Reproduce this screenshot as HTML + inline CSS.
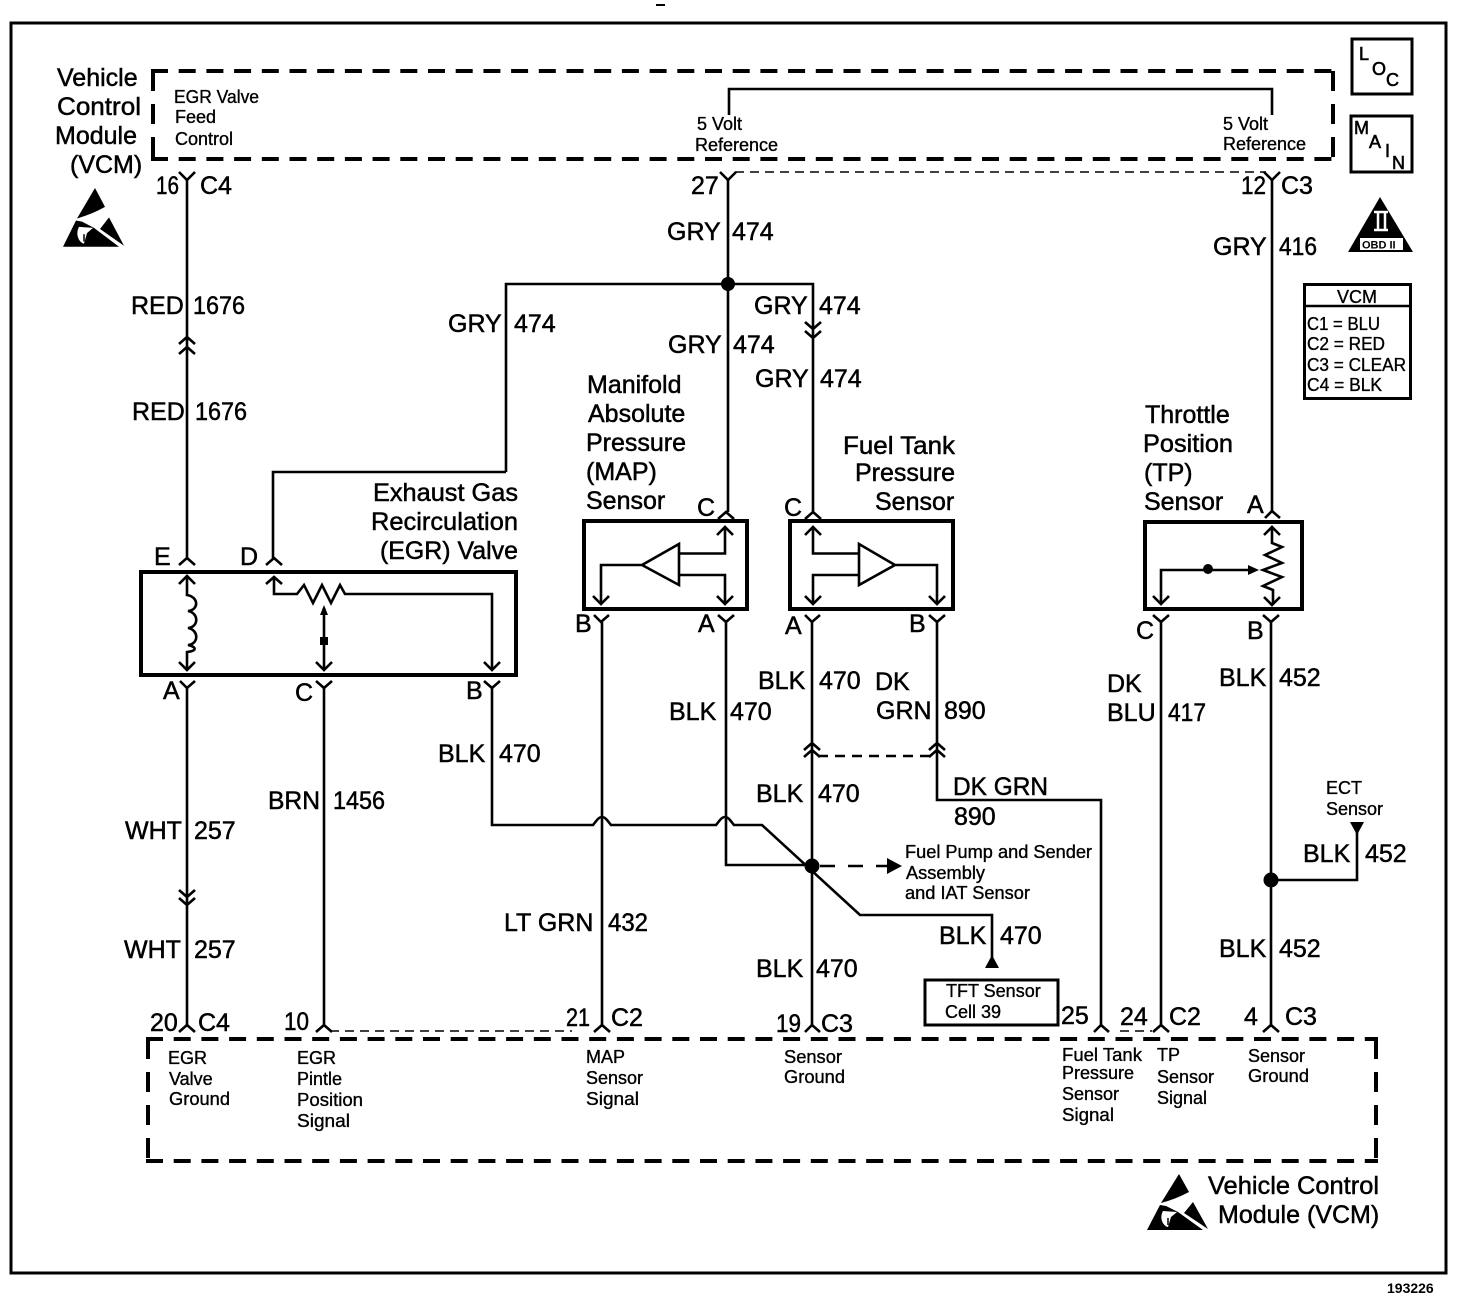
<!DOCTYPE html>
<html>
<head>
<meta charset="utf-8">
<style>
html,body{margin:0;padding:0;background:#fff;}
svg{display:block;}
text{font-family:"Liberation Sans",sans-serif;fill:#000;stroke:#000;}
.b text{font-size:25px;stroke-width:.5;}
.s text{font-size:18px;stroke-width:.35;}
.w{fill:none;stroke:#000;stroke-width:2.6;}
.h{fill:none;stroke:#000;stroke-width:4;}
.d{fill:none;stroke:#000;stroke-width:4;stroke-dasharray:17 10.7;}
.v{fill:none;stroke:#000;stroke-width:4;stroke-dasharray:20 13;}
.t{fill:none;stroke:#000;stroke-width:1.6;stroke-dasharray:9 6;}
</style>
</head>
<body>
<svg width="1472" height="1300" viewBox="0 0 1472 1300" xmlns="http://www.w3.org/2000/svg">
<rect width="1472" height="1300" fill="#fff"/>
<rect x="11" y="23" width="1435" height="1250" fill="none" stroke="#000" stroke-width="3"/>
<path d="M656 5h9" stroke="#000" stroke-width="2"/>

<path class="d" d="M151 71H1335M151 159H1335M146 1039H1378M146 1161H1378"/>
<path class="v" d="M153 71V159M1333 71V159M148 1039V1161M1376 1039V1161"/>

<rect x="1352" y="39" width="60" height="55" fill="none" stroke="#000" stroke-width="3"/>
<rect x="1351" y="116" width="61" height="56" fill="none" stroke="#000" stroke-width="3"/>
<path d="M1380 197L1348 252H1413Z"/>
<path d="M1374 212h14M1374 230h14M1378 212v18M1385 212v18" stroke="#fff" stroke-width="2.500" fill="none"/>
<rect x="1360" y="238" width="43" height="12" fill="#fff"/>
<rect x="1304.500" y="284.500" width="106" height="114" fill="none" stroke="#000" stroke-width="3"/>
<path d="M1305 306H1410" stroke="#000" stroke-width="2.500"/>

<!-- ESD icons -->
<g>
<path d="M1179 1174L1189 1192Q1176 1199 1161 1203Z"/>
<path d="M1160 1205L1147 1230H1203L1178 1212L1166 1206Z"/>
<path d="M1193 1202L1208 1229L1184 1213Z"/>
<path d="M1163 1211C1159 1218 1163 1226 1168 1227L1171 1217L1177 1212Z" fill="#fff"/>
<path d="M1168 1218V1225" stroke="#000" stroke-width="1.500"/>
</g>
<g transform="translate(-1084,-1044.700) scale(1,1.050)">
<path d="M1179 1174L1189 1192Q1176 1199 1161 1203Z"/>
<path d="M1160 1205L1147 1230H1203L1178 1212L1166 1206Z"/>
<path d="M1193 1202L1208 1229L1184 1213Z"/>
<path d="M1163 1211C1159 1218 1163 1226 1168 1227L1171 1217L1177 1212Z" fill="#fff"/>
<path d="M1168 1218V1225" stroke="#000" stroke-width="1.500"/>
</g>

<!-- Wires -->
<path class="w" d="M729 115V89H1272V115"/>
<path class="w" d="M187 180V558"/>
<path class="w" d="M179 344L187 337L195 344M179 354L187 347L195 354"/>
<path class="w" d="M187 687V1025M179 890L187 897L195 890M179 898L187 905L195 898"/>
<path class="w" d="M728 180V512M506 472V284H813V338M506 472H273V558"/>
<path class="w" d="M805 322L813 329L821 322M805 331L813 338L821 331M813 338V512"/>
<path class="w" d="M1272 180V511"/>
<path class="w" d="M324 687V1025"/>
<path class="w" d="M492 687V825H593L597 820Q602 814 607 820L611 825H716L720 820Q725 814 730 820L734 825H762L860 915H992V960"/>
<path class="w" d="M602 622V1025"/>
<path class="w" d="M726 622V865H812"/>
<path class="w" d="M812 622V1025M804 750L812 743L820 750M804 757L812 750L820 757"/>
<path class="w" d="M937 622V800H1101V1025M929 750L937 743L945 750M929 757L937 750L945 757"/>
<path class="w" d="M1161 622V1025"/>
<path class="w" d="M1271 622V1025M1271 880H1357V830"/>
<path d="M1350 822H1364L1357 835Z"/>
<path d="M985 968H999L992 955Z"/>
<circle cx="728" cy="284" r="7"/>
<circle cx="812" cy="866" r="7.500"/>
<circle cx="1271" cy="880" r="7.500"/>
<path class="t" d="M735 172H1266M330 1031H572M1120 1031H1152"/>
<path d="M818 756H930" fill="none" stroke="#000" stroke-width="2.400" stroke-dasharray="10 7"/>
<path d="M820 866H890" fill="none" stroke="#000" stroke-width="2.600" stroke-dasharray="15 13"/>
<path d="M887 858L902 866L887 874Z"/>

<!-- pin forks -->
<path class="w" d="M179 172L187 180L195 172M720 172L728 180L736 172M1264 172L1272 180L1280 172"/>
<path class="w" d="M179 565L187 558L195 565M266 565L274 558L282 565M718 519L726 512L734 519M805 519L813 512L821 519M1265 518L1272 511L1280 518"/>
<path class="w" d="M180 681L187 688L195 681M316 681L324 688L332 681M484 681L492 688L500 681M594 615L601 622L609 615M718 615L726 622L734 615M805 615L812 622L820 615M929 615L937 622L945 615M1153 615L1161 622L1169 615M1263 615L1271 622L1279 615"/>
<path class="w" d="M179 1032L187 1025L195 1032M316 1032L324 1025L332 1032M594 1032L602 1025L610 1032M805 1032L812 1025L820 1032M1094 1032L1101 1025L1109 1032M1153 1032L1161 1025L1169 1032M1263 1032L1271 1025L1279 1032"/>

<!-- EGR box -->
<rect class="h" x="141" y="572" width="375" height="103" stroke-width="4.500"/>
<path class="w" d="M187 577V595C199 597 199 610 188 611C199 613 199 627 188 628C199 630 199 644 188 645C197 647 197 651 187 652V669M179 584L187 576L195 584M179 662L187 670L195 662"/>
<path class="w" d="M274 577V594H297L304 585L313 603L322 585L331 603L340 585L345 594H492V669M266 584L274 577L282 584M484 662L492 670L500 662"/>
<path class="w" d="M324 608V669M316 662L324 670L332 662"/>
<path d="M320 615L324 605L328 615Z"/>
<rect x="320" y="637" width="8" height="8"/>

<!-- MAP -->
<rect class="h" x="584" y="521" width="163" height="88"/>
<path class="w" d="M679 544V585L642 565ZM679 553.500H725V528M679 575H725V603M642 565H601V603M717 535L725 527L733 535M717 596L725 604L733 596M593 596L601 604L609 596"/>

<!-- Fuel -->
<rect class="h" x="790" y="521" width="163" height="88"/>
<path class="w" d="M859 544V585L895 565ZM859 553.500H813V528M859 575H813V603M895 565H937V603M805 535L813 527L821 535M805 596L813 604L821 596M929 596L937 604L945 596"/>

<!-- TP -->
<rect class="h" x="1145" y="522" width="157" height="87"/>
<path class="w" d="M1272 528V543L1282 547L1265 555L1282 563L1263 570L1282 577L1263 586L1273 590V604M1264 535L1272 527L1280 535M1264 597L1272 605L1280 597"/>
<path class="w" d="M1161 604V570H1250M1153 596L1161 604L1169 596"/>
<path d="M1248 565L1259 570L1248 575Z"/>
<circle cx="1208" cy="569" r="5"/>

<rect x="925" y="980" width="133" height="45" fill="none" stroke="#000" stroke-width="3"/>

<g class="b">
<text x="57" y="86">Vehicle</text>
<text x="57" y="115" textLength="84" lengthAdjust="spacingAndGlyphs">Control</text>
<text x="55" y="144">Module</text>
<text x="70" y="173">(VCM)</text>
<text x="156" y="194" textLength="23" lengthAdjust="spacingAndGlyphs">16</text><text x="200" y="194">C4</text>
<text x="691" y="194">27</text>
<text x="1241" y="194" textLength="25" lengthAdjust="spacingAndGlyphs">12</text><text x="1281" y="194">C3</text>
<text x="667" y="240">GRY</text><text x="732" y="240">474</text>
<text x="1213" y="255">GRY</text><text x="1279" y="255" textLength="38" lengthAdjust="spacingAndGlyphs">416</text>
<text x="131" y="314">RED</text><text x="193" y="314" textLength="52" lengthAdjust="spacingAndGlyphs">1676</text>
<text x="132" y="420">RED</text><text x="195" y="420" textLength="52" lengthAdjust="spacingAndGlyphs">1676</text>
<text x="448" y="332">GRY</text><text x="514" y="332">474</text>
<text x="668" y="353">GRY</text><text x="733" y="353">474</text>
<text x="754" y="314">GRY</text><text x="819" y="314">474</text>
<text x="755" y="387">GRY</text><text x="820" y="387">474</text>
<text x="587" y="393">Manifold</text>
<text x="588" y="422">Absolute</text>
<text x="586" y="451">Pressure</text>
<text x="586" y="480">(MAP)</text>
<text x="586" y="509">Sensor</text>
<text x="843" y="454" textLength="112" lengthAdjust="spacingAndGlyphs">Fuel Tank</text>
<text x="855" y="481">Pressure</text>
<text x="875" y="510">Sensor</text>
<text x="1145" y="423">Throttle</text>
<text x="1143" y="452" textLength="90" lengthAdjust="spacingAndGlyphs">Position</text>
<text x="1144" y="481">(TP)</text>
<text x="1144" y="510">Sensor</text>
<text x="373" y="501" textLength="145" lengthAdjust="spacingAndGlyphs">Exhaust Gas</text>
<text x="371" y="530" textLength="147" lengthAdjust="spacingAndGlyphs">Recirculation</text>
<text x="380" y="559" textLength="138" lengthAdjust="spacingAndGlyphs">(EGR) Valve</text>
<text x="154" y="565">E</text><text x="240" y="565">D</text>
<text x="697" y="516">C</text><text x="784" y="516">C</text><text x="1247" y="513">A</text>
<text x="163" y="699">A</text><text x="295" y="701">C</text><text x="466" y="699">B</text>
<text x="575" y="632">B</text><text x="698" y="632">A</text>
<text x="785" y="634">A</text><text x="909" y="632">B</text>
<text x="1136" y="639">C</text><text x="1247" y="639">B</text>
<text x="758" y="689">BLK</text><text x="819" y="689">470</text>
<text x="875" y="690">DK</text>
<text x="876" y="719">GRN</text><text x="944" y="719">890</text>
<text x="669" y="720">BLK</text><text x="730" y="720">470</text>
<text x="1107" y="692">DK</text>
<text x="1107" y="721">BLU</text><text x="1168" y="721" textLength="38" lengthAdjust="spacingAndGlyphs">417</text>
<text x="1219" y="686">BLK</text><text x="1279" y="686">452</text>
<text x="438" y="762">BLK</text><text x="499" y="762">470</text>
<text x="756" y="802">BLK</text><text x="818" y="802">470</text>
<text x="953" y="795" textLength="95" lengthAdjust="spacingAndGlyphs">DK GRN</text>
<text x="954" y="825">890</text>
<text x="268" y="809" textLength="52" lengthAdjust="spacingAndGlyphs">BRN</text><text x="333" y="809" textLength="52" lengthAdjust="spacingAndGlyphs">1456</text>
<text x="125" y="839">WHT</text><text x="194" y="839">257</text>
<text x="124" y="958">WHT</text><text x="194" y="958">257</text>
<text x="1303" y="862">BLK</text><text x="1365" y="862">452</text>
<text x="504" y="931">LT GRN</text><text x="608" y="931" textLength="40" lengthAdjust="spacingAndGlyphs">432</text>
<text x="939" y="944">BLK</text><text x="1000" y="944">470</text>
<text x="1219" y="957">BLK</text><text x="1279" y="957">452</text>
<text x="756" y="977">BLK</text><text x="816" y="977">470</text>
<text x="150" y="1031">20</text><text x="198" y="1031">C4</text>
<text x="284" y="1030" textLength="25" lengthAdjust="spacingAndGlyphs">10</text>
<text x="566" y="1026" textLength="24" lengthAdjust="spacingAndGlyphs">21</text><text x="611" y="1026">C2</text>
<text x="776" y="1032" textLength="25" lengthAdjust="spacingAndGlyphs">19</text><text x="821" y="1032">C3</text>
<text x="1061" y="1024">25</text>
<text x="1120" y="1025">24</text><text x="1169" y="1025">C2</text>
<text x="1244" y="1025">4</text><text x="1285" y="1025">C3</text>
<text x="1208" y="1194" textLength="171" lengthAdjust="spacingAndGlyphs">Vehicle Control</text>
<text x="1218" y="1223">Module (VCM)</text>
</g>

<g class="s">
<text x="174" y="103" textLength="85" lengthAdjust="spacingAndGlyphs">EGR Valve</text>
<text x="175" y="123">Feed</text>
<text x="175" y="145">Control</text>
<text x="697" y="130" textLength="45" lengthAdjust="spacingAndGlyphs">5 Volt</text>
<text x="695" y="151">Reference</text>
<text x="1223" y="130" textLength="45" lengthAdjust="spacingAndGlyphs">5 Volt</text>
<text x="1223" y="150">Reference</text>
<text x="1326" y="794">ECT</text>
<text x="1326" y="815">Sensor</text>
<text x="905" y="858" textLength="187" lengthAdjust="spacingAndGlyphs">Fuel Pump and Sender</text>
<text x="906" y="879" textLength="79" lengthAdjust="spacingAndGlyphs">Assembly</text>
<text x="905" y="899" textLength="125" lengthAdjust="spacingAndGlyphs">and IAT Sensor</text>
<text x="946" y="997">TFT Sensor</text>
<text x="945" y="1018">Cell 39</text>
<text x="168" y="1064">EGR</text>
<text x="169" y="1085">Valve</text>
<text x="169" y="1105" textLength="61" lengthAdjust="spacingAndGlyphs">Ground</text>
<text x="297" y="1064">EGR</text>
<text x="297" y="1085">Pintle</text>
<text x="297" y="1106" textLength="66" lengthAdjust="spacingAndGlyphs">Position</text>
<text x="297" y="1127" textLength="53" lengthAdjust="spacingAndGlyphs">Signal</text>
<text x="586" y="1063">MAP</text>
<text x="586" y="1084" textLength="57" lengthAdjust="spacingAndGlyphs">Sensor</text>
<text x="586" y="1105" textLength="53" lengthAdjust="spacingAndGlyphs">Signal</text>
<text x="784" y="1063" textLength="58" lengthAdjust="spacingAndGlyphs">Sensor</text>
<text x="784" y="1083" textLength="61" lengthAdjust="spacingAndGlyphs">Ground</text>
<text x="1062" y="1061" textLength="80" lengthAdjust="spacingAndGlyphs">Fuel Tank</text>
<text x="1062" y="1079">Pressure</text>
<text x="1062" y="1100">Sensor</text>
<text x="1062" y="1121" textLength="52" lengthAdjust="spacingAndGlyphs">Signal</text>
<text x="1157" y="1061">TP</text>
<text x="1157" y="1083">Sensor</text>
<text x="1157" y="1104">Signal</text>
<text x="1248" y="1062">Sensor</text>
<text x="1248" y="1082" textLength="61" lengthAdjust="spacingAndGlyphs">Ground</text>
<text x="1337" y="303" textLength="40" lengthAdjust="spacingAndGlyphs">VCM</text>
<text x="1307" y="330" textLength="73" lengthAdjust="spacingAndGlyphs">C1 = BLU</text>
<text x="1307" y="350" textLength="78" lengthAdjust="spacingAndGlyphs">C2 = RED</text>
<text x="1307" y="371" textLength="99" lengthAdjust="spacingAndGlyphs">C3 = CLEAR</text>
<text x="1307" y="391" textLength="75" lengthAdjust="spacingAndGlyphs">C4 = BLK</text>
<text x="1387" y="1293" style="font-size:14px;font-weight:bold;stroke-width:0">193226</text>
<text x="1359" y="60" style="font-size:18px;stroke-width:.6">L</text>
<text x="1372" y="75" style="font-size:18px;stroke-width:.6">O</text>
<text x="1386" y="86" style="font-size:18px;stroke-width:.6">C</text>
<text x="1354" y="134" style="font-size:18px;stroke-width:.6">M</text>
<text x="1369" y="148" style="font-size:18px;stroke-width:.6">A</text>
<text x="1385" y="157" style="font-size:18px;stroke-width:.6">I</text>
<text x="1392" y="169" style="font-size:18px;stroke-width:.6">N</text>
<text x="1362" y="248.500" style="font-size:11px;font-weight:bold;stroke-width:0">OBD II</text>
</g>
</svg>
</body>
</html>
